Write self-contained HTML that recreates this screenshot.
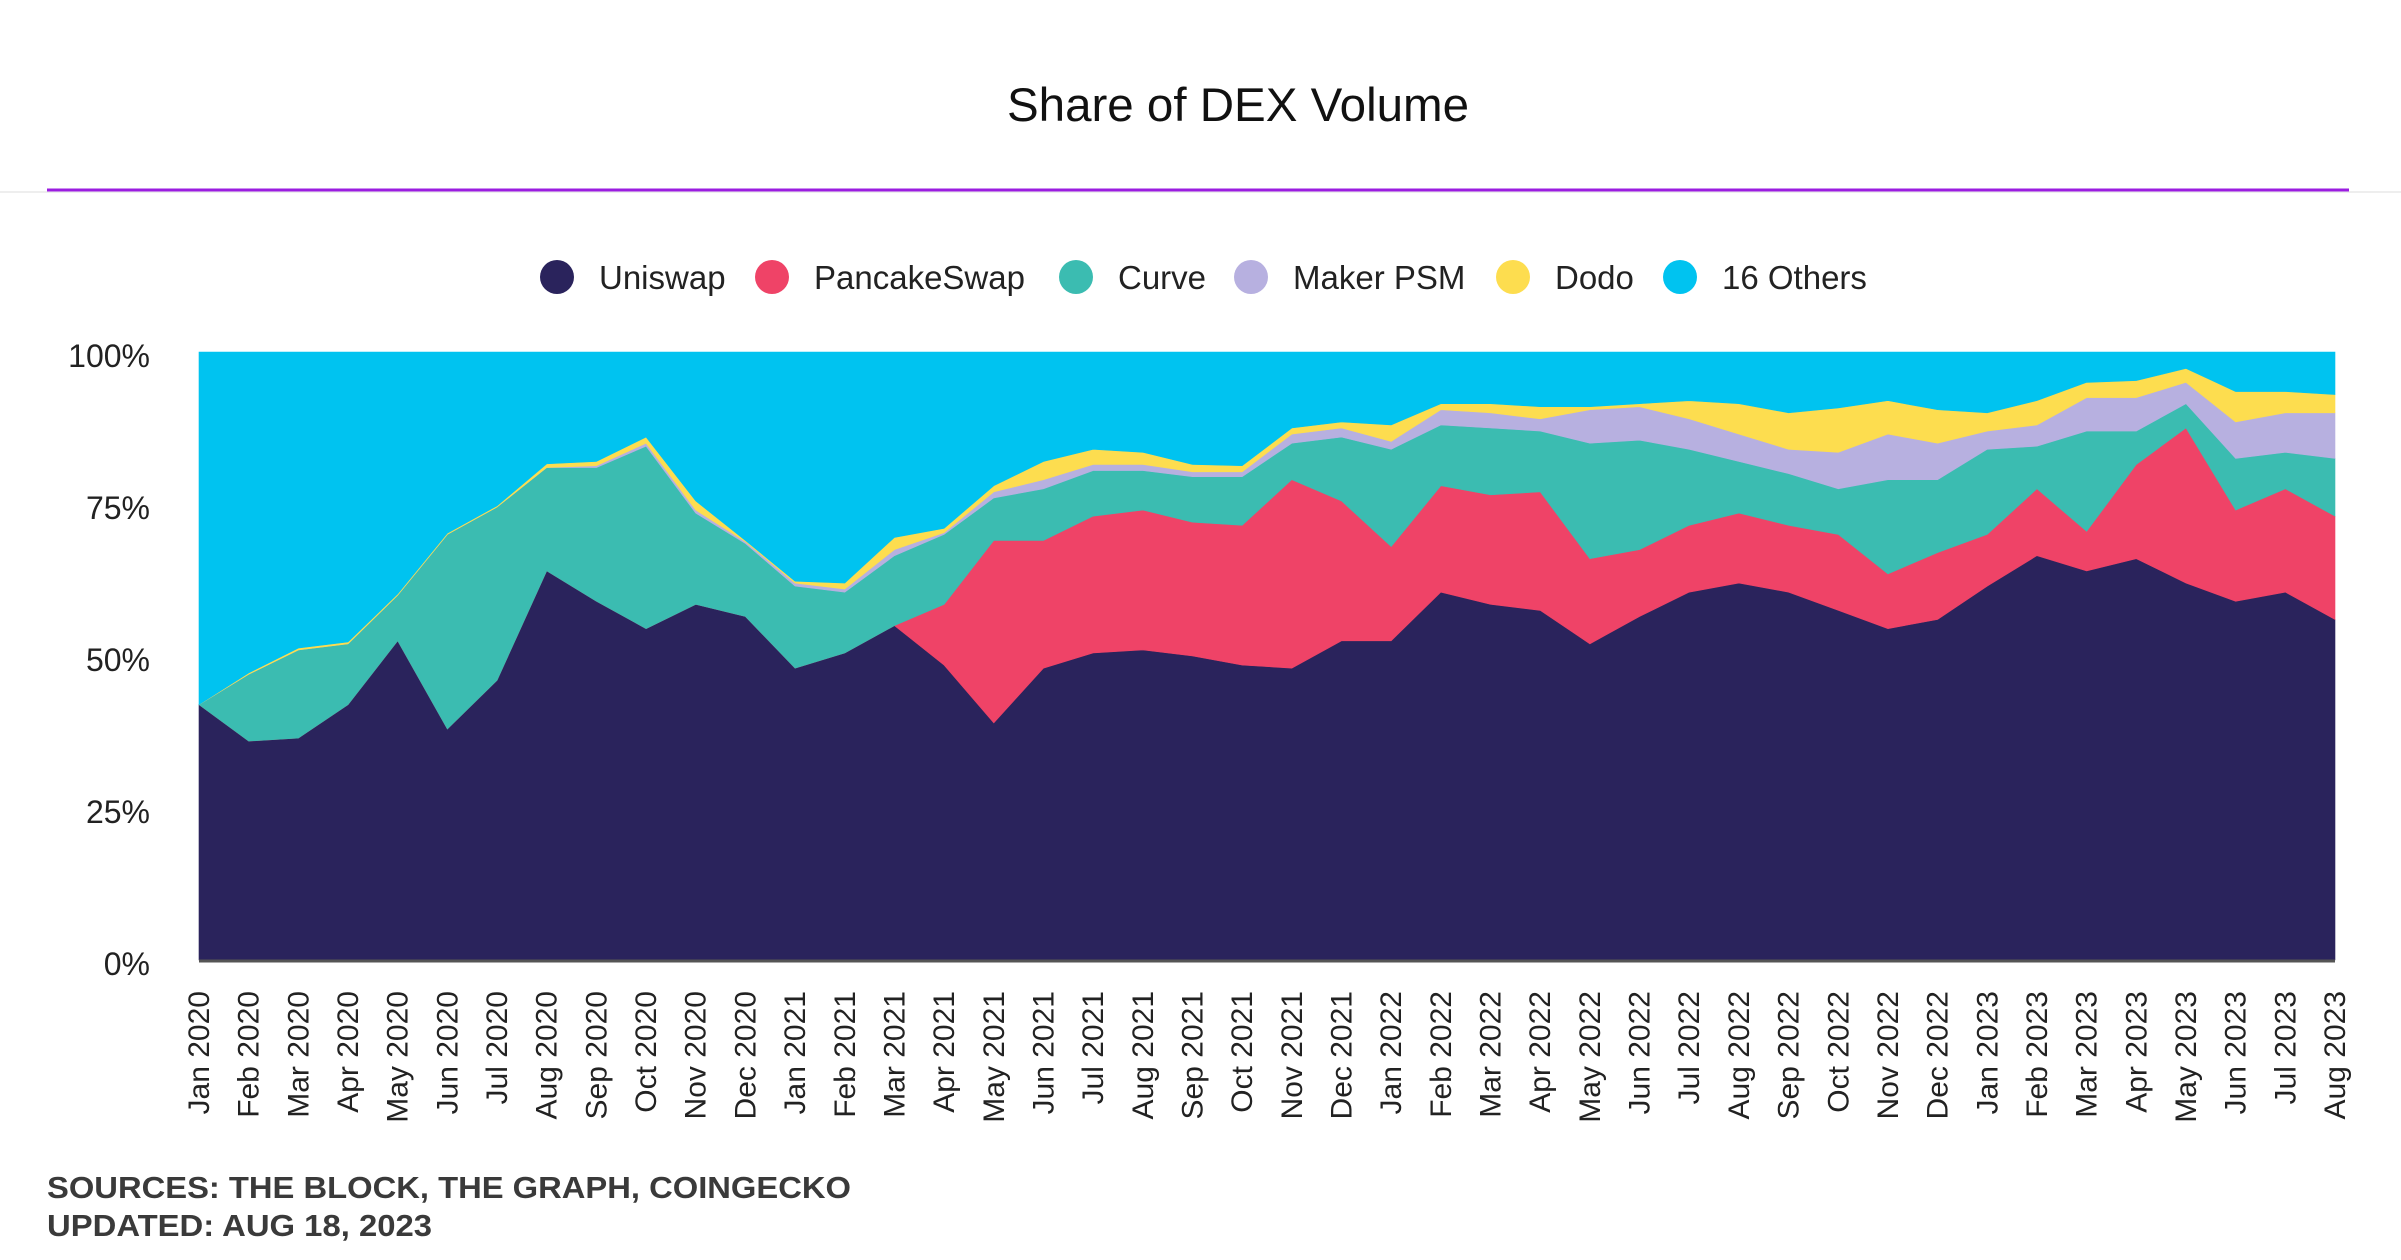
<!DOCTYPE html>
<html><head><meta charset="utf-8"><style>
html,body{margin:0;padding:0;background:#fff;}
svg{display:block;font-family:"Liberation Sans",sans-serif;}
</style></head><body>
<svg id="chart" width="2401" height="1260" viewBox="0 0 2401 1260" xmlns="http://www.w3.org/2000/svg">
<rect x="0" y="0" width="2401" height="1260" fill="#fff"/>
<text x="1238" y="121" text-anchor="middle" font-size="47.5" fill="#111">Share of DEX Volume</text>
<line x1="0" y1="192" x2="2401" y2="192" stroke="#eee" stroke-width="2"/>
<line x1="47" y1="190" x2="2349" y2="190" stroke="#9b1de0" stroke-width="3"/>
<g id="legend"></g>
<g id="areas"></g>
<g id="yaxis"></g>
<g id="xaxis"></g>
<text x="47" y="1198" font-size="31" font-weight="bold" fill="#3a3a3a" textLength="804" lengthAdjust="spacingAndGlyphs">SOURCES: THE BLOCK, THE GRAPH, COINGECKO</text>
<text x="47" y="1236" font-size="31" font-weight="bold" fill="#3a3a3a" textLength="385" lengthAdjust="spacingAndGlyphs">UPDATED: AUG 18, 2023</text>
</svg>
<script>
const months = ["Jan","Feb","Mar","Apr","May","Jun","Jul","Aug","Sep","Oct","Nov","Dec"];
const categories = [];
for (let y = 2020; y <= 2023; y++) for (let m = 0; m < 12; m++) { if (y === 2023 && m > 7) break; categories.push(months[m] + " " + y); }
const uniswap = [42,36,36.5,42,52.5,38,46,64,59,54.5,58.5,56.5, 48,50.5,55,48.5,39,48,50.5,51,50,48.5,48,52.5, 52.5,60.5,58.5,57.5,52,56.5,60.5,62,60.5,57.5,54.5,56, 61.5,66.5,64,66,62,59,60.5,56];
const pancakeswap = [0,0,0,0,0,0,0,0,0,0,0,0, 0,0,0,10,30,21,22.5,23,22,23,31,23, 15.5,17.5,18,19.5,14,11,11,11.5,11,12.5,9,11, 8.5,11,6.5,15.5,25.5,15,17,17];
const curve = [0,11,14.5,10,7.5,32,28.5,17,22,30,15,12, 13.5,10,11.5,11.5,7,8.5,7.5,6.5,7.5,8,6,10.5, 16,10,11,10,19,18,12.5,8.5,8.5,7.5,15.5,12, 14,7,16.5,5.5,4,8.5,6,9.5];
const makerPsm = [0,0,0,0,0,0,0,0,0.3,0.5,0.5,0.3, 0.5,0.5,1,0.3,1,1.5,1,1,0.8,0.8,1.5,1.5, 1.3,2.5,2.5,2,5.5,5.5,5,4.5,4,6,7.5,6, 3,3.5,5.5,5.5,3.5,6,6.5,7.5];
const dodo = [0,0.2,0.3,0.3,0.2,0.2,0.2,0.6,0.7,1,1.5,0.2, 0.3,1,2,0.7,1,3,2.5,2,1.2,1,1,1, 2.7,1,1.5,2,0.5,0.5,3,5,6,7.3,5.5,5.5, 3,4,2.5,2.8,2.3,5,3.5,3];
const seriesNames = ["Uniswap","PancakeSwap","Curve","Maker PSM","Dodo","16 Others"];
const yTicks = [0,25,50,75,100];
const yTickLabels = ["0%","25%","50%","75%","100%"];

const colors = ["#2a235c","#ef4367","#3bbcb1","#b7b0e0","#fddd4f","#00c3f0"];
const X0 = 199, X1 = 2335, YT = 352, YB = 960;
const n = categories.length;
const xs = i => X0 + (X1 - X0) * i / (n - 1);
const ys = v => YB - (YB - YT) * v / 100;
const NS = "http://www.w3.org/2000/svg";
const mk = (t, a) => { const e = document.createElementNS(NS, t); for (const k in a) e.setAttribute(k, a[k]); return e; };

const others = categories.map((_, i) => Math.max(0, 100 - uniswap[i] - pancakeswap[i] - curve[i] - makerPsm[i] - dodo[i]));
const series = [uniswap, pancakeswap, curve, makerPsm, dodo, others];
const areas = document.getElementById("areas");
let base = categories.map(() => 0);
series.forEach((s, k) => {
  const top = base.map((b, i) => b + s[i]);
  let d = "M" + top.map((v, i) => xs(i).toFixed(2) + "," + ys(v).toFixed(2)).join("L");
  for (let i = n - 1; i >= 0; i--) d += "L" + xs(i).toFixed(2) + "," + ys(base[i]).toFixed(2);
  d += "Z";
  const p = mk("path", {d: d, fill: colors[k], stroke: colors[k], "stroke-width": "0.6"});
  
  
  areas.appendChild(p);
  base = top;
});
const axisLine = mk("line", {x1: X0, y1: YB + 1, x2: X1, y2: YB + 1, stroke: "#555", "stroke-width": "3"});


areas.appendChild(axisLine);

const yaxis = document.getElementById("yaxis");
yTicks.forEach((t, i) => {
  const tx = mk("text", {x: 150, y: ys(t) + 15, "text-anchor": "end", "font-size": "32", fill: "#222"});
  tx.textContent = yTickLabels[i];
  
  
  yaxis.appendChild(tx);
});

const xaxis = document.getElementById("xaxis");
categories.forEach((c, i) => {
  const x = xs(i) + 10, y = 991;
  const tx = mk("text", {x: x, y: y, "text-anchor": "end", "font-size": "30", fill: "#222", transform: "rotate(-90 " + x + " " + y + ")"});
  tx.textContent = c;
  
  
  xaxis.appendChild(tx);
});

const legendCx = [557, 772, 1076, 1251, 1513, 1680];
const legend = document.getElementById("legend");
seriesNames.forEach((s, k) => {
  const g = mk("g", {});
  
  
  const c = mk("circle", {cx: legendCx[k], cy: 277, r: 17, fill: colors[k]});
  
  
  const t = mk("text", {x: legendCx[k] + 42, y: 289, "font-size": "33", fill: "#222"});
  t.textContent = s;
  
  
  g.appendChild(c); g.appendChild(t); legend.appendChild(g);
});
</script>
</body></html>
